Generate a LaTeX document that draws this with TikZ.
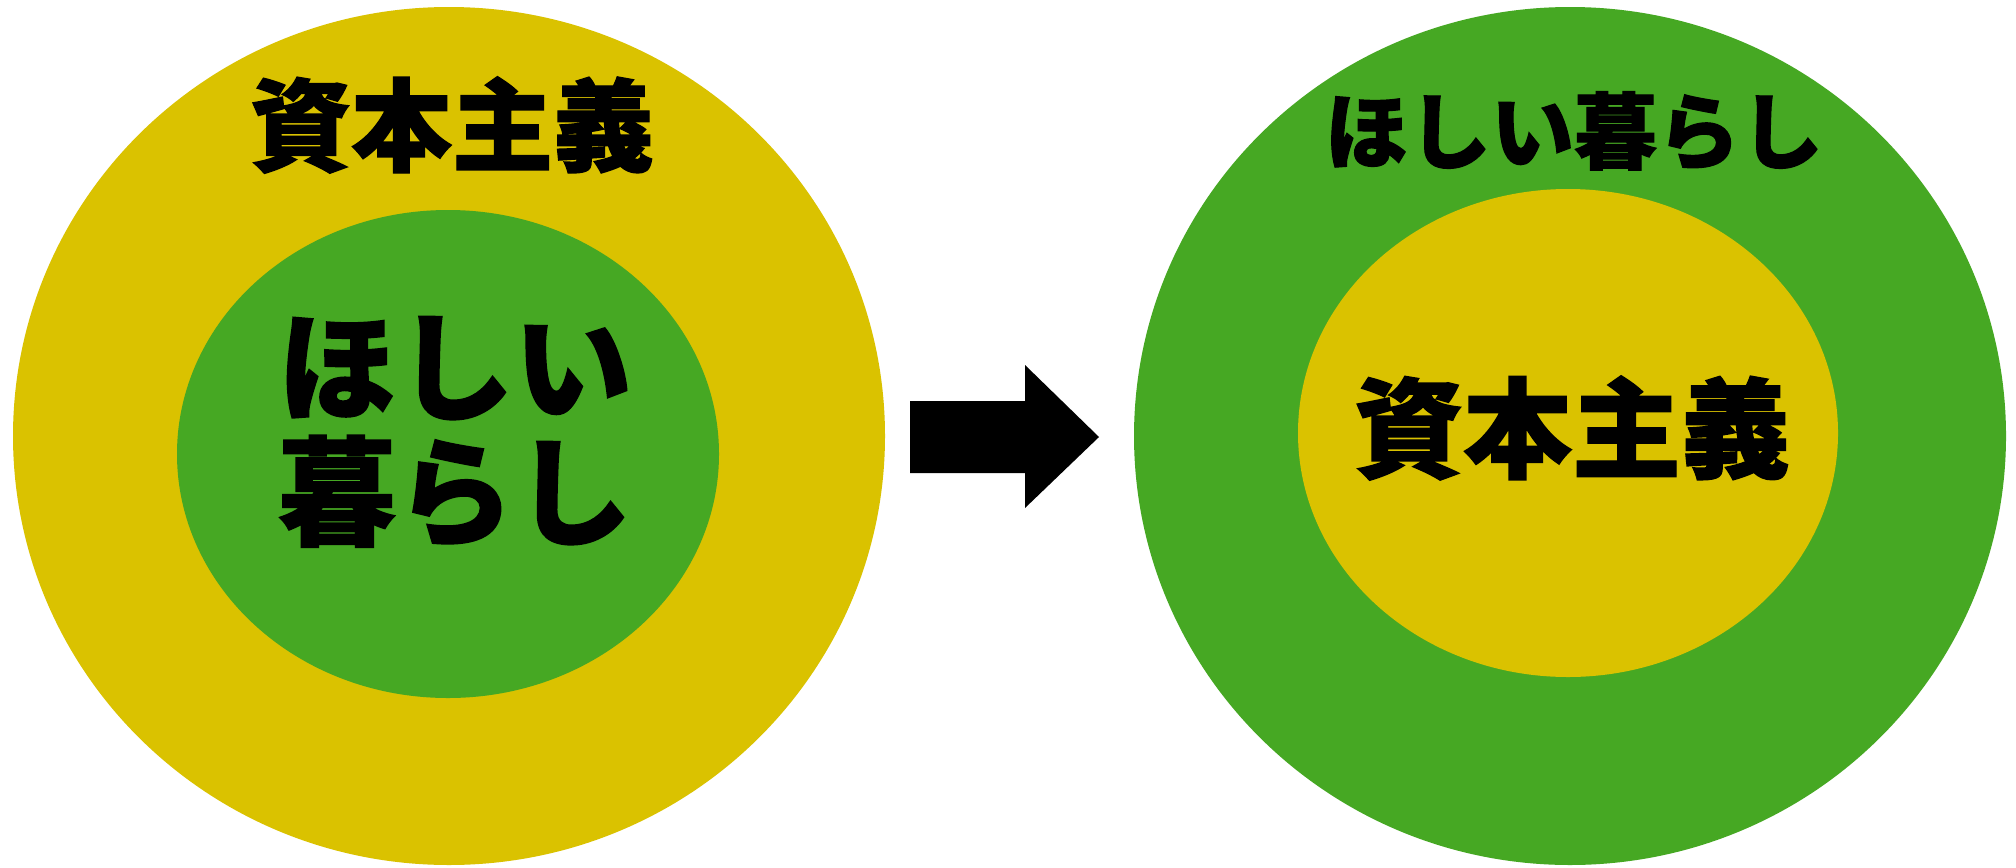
\documentclass[tikz,border=0pt]{standalone}
\usepackage{fontspec}
\newfontfamily\cjk{Noto Sans CJK JP}[FakeBold=1.3]
\definecolor{capyellow}{HTML}{DAC200}
\definecolor{lifegreen}{HTML}{46A823}
\tikzset{
  lbl/.style={text=black, inner sep=0pt, align=center},
}
\begin{document}
\begin{tikzpicture}[x=0.5pt,y=-0.5pt]
\useasboundingbox (0,0) rectangle (2016,867);
\fill[white] (0,0) rectangle (2016,867);
% left
\fill[capyellow] (449,436) ellipse [x radius=436, y radius=429];
\fill[lifegreen] (448,454) ellipse [x radius=271, y radius=244];
% right
\fill[lifegreen] (1570,436) ellipse [x radius=436, y radius=429];
\fill[capyellow] (1568,433) ellipse [x radius=270, y radius=244];
% arrow
\fill[black] (910,401) -- (1025,401) -- (1025,365) -- (1099,437) -- (1025,508) -- (1025,473) -- (910,473) -- cycle;
% labels
\node[lbl, font=\cjk\bfseries\fontsize{50.5}{50.5}\selectfont] (lt) at (452,125) {資本主義};
\node[lbl, font=\cjk\bfseries\fontsize{59}{62.5}\selectfont] (li) at (455,432) {ほしい\\暮らし};
\node[lbl, font=\cjk\bfseries\fontsize{41.5}{41.5}\selectfont] (rt) at (1574,131) {ほしい暮らし};
\node[lbl, font=\cjk\bfseries\fontsize{54.5}{54.5}\selectfont] (ri) at (1572,428) {資本主義};
\end{tikzpicture}
\end{document}
